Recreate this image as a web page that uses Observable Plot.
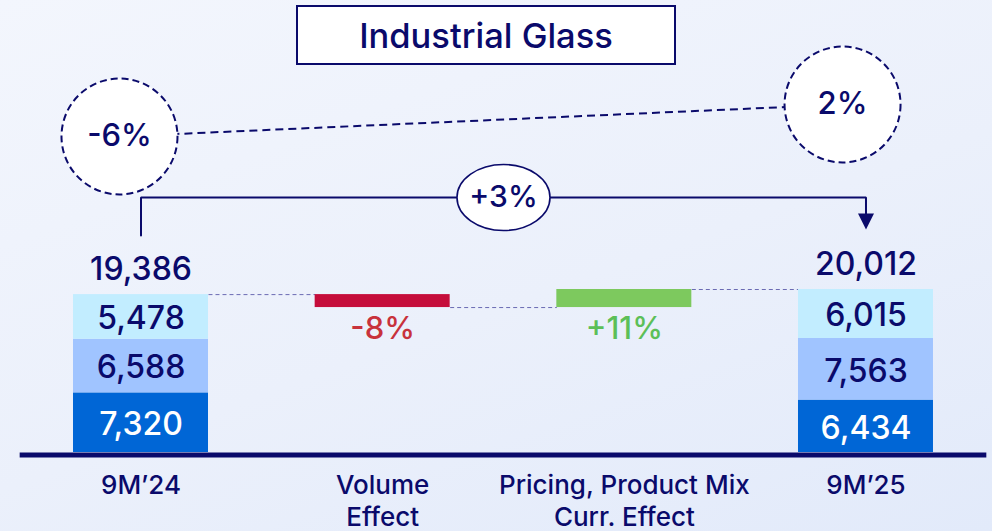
<!DOCTYPE html>
<html><head><meta charset="utf-8">
<script src="https://cdn.jsdelivr.net/npm/d3@7"></script>
<script src="https://cdn.jsdelivr.net/npm/@observablehq/plot@0.6"></script>
<style>
html,body{margin:0;padding:0;}
body{width:992px;height:531px;overflow:hidden;background:linear-gradient(160deg,#f3f6fd 0%,#ebf0fb 55%,#e2eafa 100%);font-family:Inter,sans-serif;}
#wrap{position:relative;width:992px;height:531px;}
#wrap svg{position:absolute;left:0;top:0;}
#title{position:absolute;left:296px;top:5px;width:376px;height:56px;border:2.5px solid #0a0a6b;background:#fff;color:#0a0a6b;font-size:34.5px;font-weight:500;display:flex;align-items:center;justify-content:center;z-index:2;}
</style></head><body>
<div id="wrap"><div id="title">Industrial Glass</div></div>
<script>
// ---- data ----
const categoryLabels = ["9M’24", "Volume\nEffect", "Pricing, Product Mix\nCurr. Effect", "9M’25"];
const periods = ["9M’24", "9M’25"];
const periodIndex = [0, 3];
const segmentNames = ["bottom", "middle", "top"];
const segments24 = [7320, 6588, 5478];
const segments25 = [6434, 7563, 6015];
const totals = [19386, 20012];
const effectNames = ["Volume Effect", "Pricing, Product Mix Curr. Effect"];
const effectIndex = [1, 2];
const effectDeltas = [-1590, 2216];
const effectLabels = ["-8%", "+11%"];
const circleLabels = ["-6%", "2%"];
const totalChangeLabel = "+3%";

// ---- styles ----
const NAVY = "#0a0a6b";
const segColors = {bottom: "#0066d6", middle: "#a0c4ff", top: "#c2edff"};
const segText = {bottom: "#ffffff", middle: NAVY, top: NAVY};
const HW = 0.2793; // half bar width in category units
const K = 163 / 20012; // px per unit
const up = px => px / K; // pixel height above baseline -> data units

// ---- derived tables ----
const segRows = [];
[segments24, segments25].forEach((vals, p) => {
  let acc = 0;
  vals.forEach((v, j) => {
    segRows.push({i: periodIndex[p], segment: segmentNames[j], value: v, y1: acc, y2: acc + v, label: d3.format(",")(v)});
    acc += v;
  });
});
const totalRows = totals.map((t, p) => ({i: periodIndex[p], total: t, label: d3.format(",")(t)}));
let level = totals[0];
const effectRows = effectDeltas.map((d, k) => {
  const r = {i: effectIndex[k], name: effectNames[k], y1: level, y2: level + d, delta: d, label: effectLabels[k]};
  level += d;
  return r;
});
const connectors = [
  {x1: 0 + HW, x2: 1 - HW, y: effectRows[0].y1},
  {x1: 1 + HW, x2: 2 - HW, y: effectRows[0].y2},
  {x1: 2 + HW, x2: 3 - HW, y: totals[1]}
];
const labelRows = categoryLabels.map((l, i) => ({i, label: l}));

// ---- annotation layout ----
const circles = [
  {x: -0.089, y: up(316), label: circleLabels[0]},
  {x: 2.903, y: up(348), label: circleLabels[1]}
];
const bracket = [
  {x: 0, y: up(217)}, {x: 0, y: up(255)}, {x: 3, y: up(255)}, {x: 3, y: up(236)}
];
const ellipseSymbol = {draw(ctx) {
  const rx = 46.5, ry = 33, c = 0.5523;
  ctx.moveTo(rx, 0);
  ctx.bezierCurveTo(rx, ry * c, rx * c, ry, 0, ry);
  ctx.bezierCurveTo(-rx * c, ry, -rx, ry * c, -rx, 0);
  ctx.bezierCurveTo(-rx, -ry * c, -rx * c, -ry, 0, -ry);
  ctx.bezierCurveTo(rx * c, -ry, rx, -ry * c, rx, 0);
  ctx.closePath();
}};
const arrowSymbol = {draw(ctx) {
  ctx.moveTo(-8, -8); ctx.lineTo(8, -8); ctx.lineTo(0, 8); ctx.closePath();
}};

const chart = Plot.plot({
  width: 992, height: 531,
  marginTop: 0, marginBottom: 79, marginLeft: 0, marginRight: 0,
  x: {type: "linear", domain: [-0.5814, 3.5235], axis: null},
  y: {domain: [0, 452 / K], axis: null},
  style: {background: "transparent", fontFamily: "Inter, sans-serif", color: NAVY, overflow: "visible"},
  marks: [
    // dashed line between growth circles
    Plot.link([circles], {x1: d => d[0].x, y1: d => d[0].y, x2: d => d[1].x, y2: d => d[1].y,
      stroke: NAVY, strokeWidth: 2, strokeDasharray: "8,5"}),
    Plot.dot(circles, {x: "x", y: "y", r: 58, fill: "white", stroke: NAVY, strokeWidth: 2, strokeDasharray: "7,4"}),
    Plot.text(circles, {x: "x", y: "y", text: "label", fill: NAVY, fontSize: 31, fontWeight: 500}),
    // bracket
    Plot.line(bracket, {x: "x", y: "y", stroke: NAVY, strokeWidth: 2, strokeLinejoin: "miter"}),
    Plot.dot([{x: 3, y: up(231)}], {x: "x", y: "y", symbol: arrowSymbol, fill: NAVY, stroke: "none"}),
    Plot.dot([{x: 1.5, y: up(255), label: totalChangeLabel}], {x: "x", y: "y", symbol: ellipseSymbol, fill: "white", stroke: NAVY, strokeWidth: 1.6}),
    Plot.text([{x: 1.5, y: up(255), label: totalChangeLabel}], {x: "x", y: "y", text: "label", fill: NAVY, fontSize: 30, fontWeight: 500}),
    // connectors
    Plot.link(connectors, {x1: "x1", x2: "x2", y1: "y", y2: "y", stroke: "#6b6bb3", strokeWidth: 1, strokeDasharray: "4,3"}),
    // stacked totals
    Plot.rectY(segRows, {x1: d => d.i - HW, x2: d => d.i + HW, y1: "y1", y2: "y2", fill: d => segColors[d.segment]}),
    Plot.text(segRows, {x: "i", y: d => (d.y1 + d.y2) / 2, dy: 2, text: "label", fill: d => segText[d.segment], fontSize: 32, fontWeight: 500}),
    Plot.text(totalRows, {x: "i", y: "total", dy: -25, text: "label", fill: NAVY, fontSize: 32, fontWeight: 500}),
    // effects
    Plot.rectY(effectRows, {x1: d => d.i - HW, x2: d => d.i + HW, y1: "y1", y2: "y2", fill: d => d.delta < 0 ? "#c50d3b" : "#7dc95e"}),
    Plot.text(effectRows, {x: "i", y: d => Math.min(d.y1, d.y2), dy: 22, text: "label", fill: d => d.delta < 0 ? "#c8323c" : "#5cbf58", fontSize: 31, fontWeight: 500}),
    // baseline
    Plot.ruleY([0], {x1: -0.5, x2: 3.5, stroke: NAVY, strokeWidth: 5, dy: 2.5}),
    // category labels
    Plot.text(labelRows, {x: "i", y: 0, dy: 19, text: "label", lineAnchor: "top", lineHeight: 1.23, fill: NAVY, fontSize: 26, fontWeight: 500})
  ]
});
document.getElementById("wrap").appendChild(chart);
</script>
</body></html>
